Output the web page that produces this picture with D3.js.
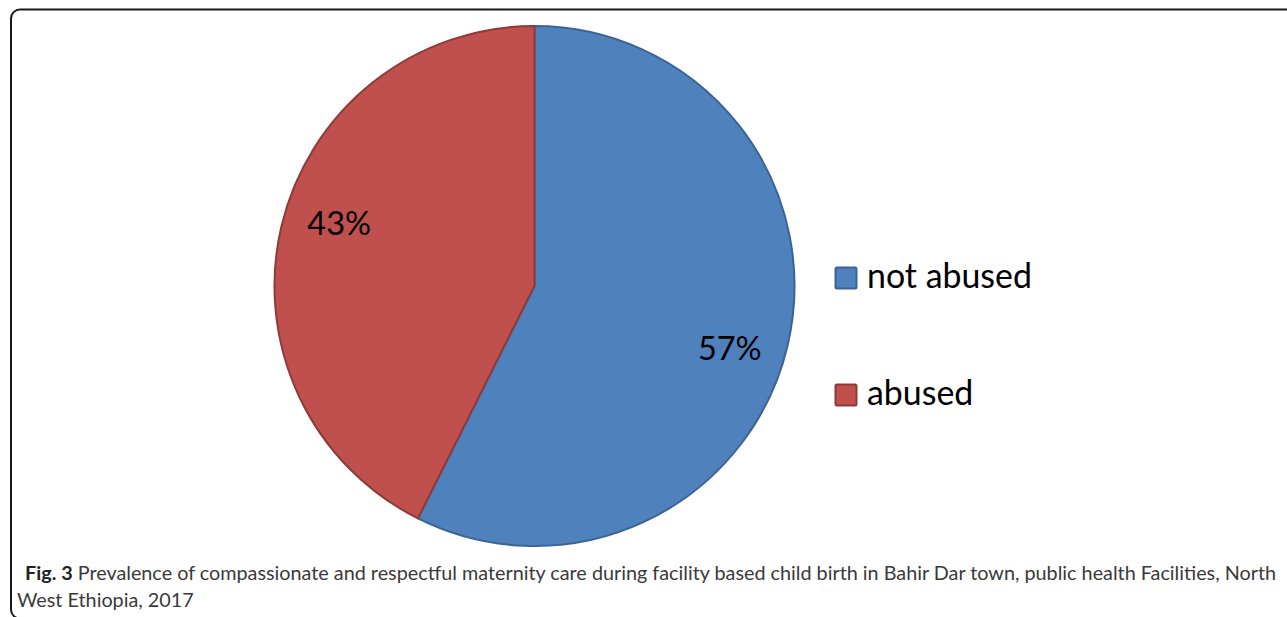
<!DOCTYPE html>
<html>
<head>
<meta charset="utf-8">
<script src="https://cdn.jsdelivr.net/npm/d3@7"></script>
<style>
  html, body { margin: 0; padding: 0; background: #fff; }
  svg { display: block; }
</style>
</head>
<body>
<svg id="chart" width="1287" height="617"></svg>
<script>
const categories = ["not abused", "abused"];
const values = [57.4, 42.6];
const valueLabels = ["57%", "43%"];
const fillColors = ["#4f81bd", "#c0504d"];
const strokeColors = ["#3b6493", "#8e3a38"];
const captionBold = "Fig. 3";
const captionLine1 = " Prevalence of compassionate and respectful maternity care during facility based child birth in Bahir Dar town, public health Facilities, North";
const captionLine2 = "West Ethiopia, 2017";

const svg = d3.select("#chart");

// frame
svg.append("rect")
  .attr("x", 11).attr("y", 9.5)
  .attr("width", 1300).attr("height", 609)
  .attr("rx", 9).attr("ry", 9)
  .attr("fill", "none").attr("stroke", "#1a1a1a").attr("stroke-width", 2);

const cx = 534.5, cy = 286, R = 260;
const pie = d3.pie().sort(null).value(d => d.v);
const data = pie(categories.map((c, i) => ({ c, v: values[i], i })));
const arc = d3.arc().innerRadius(0).outerRadius(R);
const labelR = 205, labelShift = 0.077;

const g = svg.append("g").attr("transform", `translate(${cx},${cy})`);
g.selectAll("path.slice").data(data).join("path")
  .attr("class", "slice")
  .attr("d", arc)
  .attr("fill", d => fillColors[d.data.i])
  .attr("stroke", d => strokeColors[d.data.i])
  .attr("stroke-width", 2)
  .attr("stroke-linejoin", "round");

g.selectAll("text.lbl").data(data).join("text")
  .attr("class", "lbl")
  .attr("transform", d => {
    const a = (d.startAngle + d.endAngle) / 2 + labelShift;
    return `translate(${labelR * Math.sin(a)},${-labelR * Math.cos(a)})`;
  })
  .attr("text-anchor", "middle")
  .attr("dy", "0.36em")
  .attr("font-family", "Lato, 'Open Sans', sans-serif")
  .attr("font-size", 32.5)
  .attr("fill", "#000")
  .text(d => valueLabels[d.data.i]);

// legend
const legendY = d3.scalePoint().domain(categories).range([277.5, 394.5]);
const lg = svg.append("g");
const items = lg.selectAll("g").data(categories).join("g")
  .attr("transform", d => `translate(835,${legendY(d)})`);
items.append("rect")
  .attr("x", 0.5).attr("y", -10).attr("width", 21).attr("height", 21)
  .attr("rx", 1.5)
  .attr("fill", (d, i) => fillColors[i])
  .attr("stroke", (d, i) => strokeColors[i])
  .attr("stroke-width", 2);
items.append("text")
  .attr("x", 32).attr("y", 10)
  .attr("font-family", "Lato, 'Open Sans', sans-serif")
  .attr("font-size", 33)
  .attr("fill", "#000")
  .text(d => d);

const t0 = items.select("text").node();
const w0 = t0.getComputedTextLength();
items.selectAll("text").attr("font-size", 33 * 165 / w0);

// caption
const cap = svg.append("text")
  .attr("x", 25).attr("y", 580)
  .attr("font-family", "Lato, sans-serif")
  .attr("font-size", 17)
  .attr("fill", "#3a3a3a");
cap.append("tspan").attr("font-weight", "bold").attr("fill", "#222").text(captionBold);
cap.append("tspan").text(captionLine1);
const cw = cap.node().getComputedTextLength();
const capFs = 17 * 1252 / cw;
cap.attr("font-size", capFs);

svg.append("text")
  .attr("x", 17).attr("y", 607)
  .attr("font-family", "Lato, sans-serif")
  .attr("font-size", capFs)
  .attr("fill", "#3a3a3a")
  .text(captionLine2);
</script>
</body>
</html>
